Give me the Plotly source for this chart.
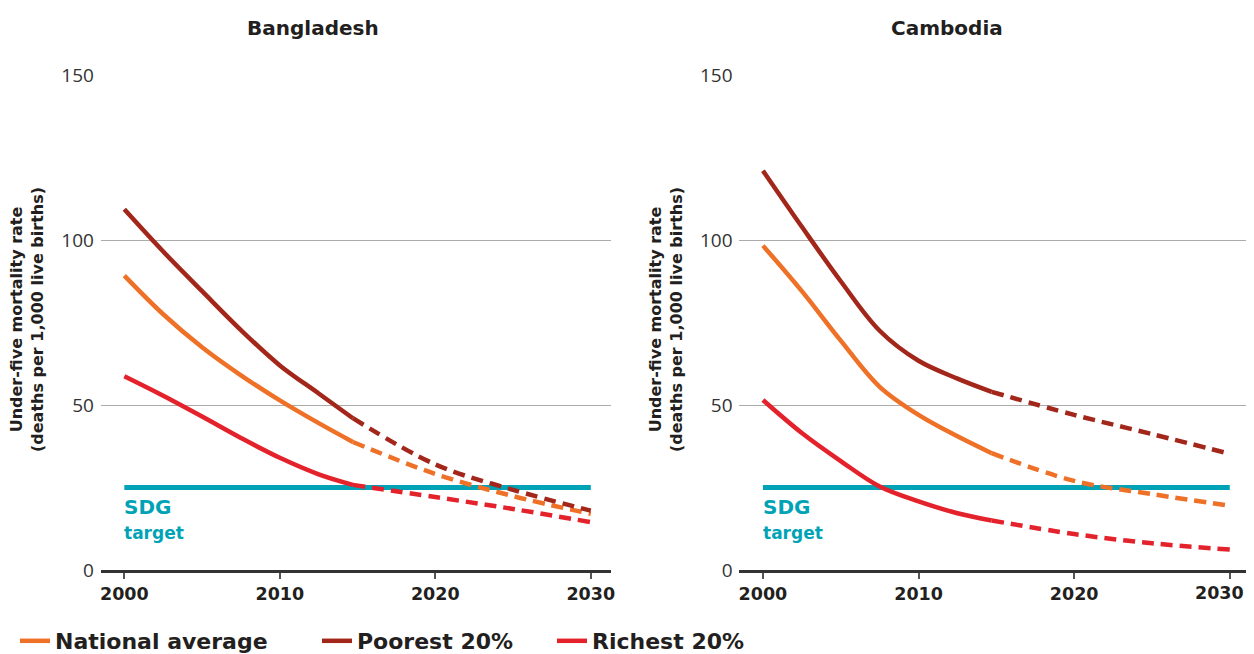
import plotly.graph_objects as go

# ---- data ----
years_obs = [2000, 2002.5, 2005, 2007.5, 2010, 2012.5, 2014.7]
years_proj = [2014.7, 2020, 2025, 2030]
sdg_years = [2000, 2030]
sdg_target = 25
x_ticks = [2000, 2010, 2020, 2030]

countries = ["Bangladesh", "Cambodia"]

bgd_national_obs = [89.2, 77.5, 67.5, 59.0, 51.4, 44.5, 38.8]
bgd_national_proj = [38.8, 29.1, 22.4, 17.0]
bgd_poorest_obs = [109.3, 96.5, 84.5, 72.7, 62.0, 53.5, 46.0]
bgd_poorest_proj = [46.0, 32.0, 24.3, 18.0]
bgd_richest_obs = [58.7, 52.8, 46.5, 40.0, 34.0, 29.0, 25.8]
bgd_richest_proj = [25.8, 22.1, 18.5, 14.5]

khm_national_obs = [98.3, 84.5, 69.5, 55.5, 47.0, 40.5, 35.4]
khm_national_proj = [35.4, 27.0, 23.0, 19.5]
khm_poorest_obs = [121.0, 104.0, 87.5, 72.5, 63.4, 58.0, 54.0]
khm_poorest_proj = [54.0, 47.0, 41.2, 35.2]
khm_richest_obs = [51.5, 41.5, 33.0, 25.3, 20.8, 17.2, 15.0]
khm_richest_proj = [15.0, 10.9, 8.1, 6.2]

series_names = ["National average", "Poorest 20%", "Richest 20%"]
colors = {"National average": "#EE7127", "Poorest 20%": "#A3261A", "Richest 20%": "#E4222B"}
SDG_COLOR = "#00A3B6"

data = {
    "Bangladesh": {
        "National average": (bgd_national_obs, bgd_national_proj),
        "Poorest 20%": (bgd_poorest_obs, bgd_poorest_proj),
        "Richest 20%": (bgd_richest_obs, bgd_richest_proj),
    },
    "Cambodia": {
        "National average": (khm_national_obs, khm_national_proj),
        "Poorest 20%": (khm_poorest_obs, khm_poorest_proj),
        "Richest 20%": (khm_richest_obs, khm_richest_proj),
    },
}

# page has an 8px body margin; figure placed so the window shows it as the reference
OFF = 8
W, H = 1254, 654 - OFF
BOLD = "DejaVu Sans"
TEXT = "#231F20"


def fx(sx):
    return (sx - OFF) / W


def fy(sy):
    return 1 - (sy - OFF) / H


legend_ids = ["legend", "legend2", "legend3"]

fig = go.Figure()

axes = [("x", "y"), ("x2", "y2")]
for i, c in enumerate(countries):
    xa, ya = axes[i]
    fig.add_trace(go.Scatter(x=sdg_years, y=[sdg_target] * 2, mode="lines",
                             line=dict(color=SDG_COLOR, width=5), showlegend=False,
                             xaxis=xa, yaxis=ya, hoverinfo="skip"))
    for k, name in enumerate(series_names):
        obs, proj = data[c][name]
        fig.add_trace(go.Scatter(x=years_proj, y=proj, mode="lines",
                                 line=dict(color=colors[name], width=4.5, dash="12px,7px", shape="spline"),
                                 showlegend=False, xaxis=xa, yaxis=ya))
        fig.add_trace(go.Scatter(x=years_obs, y=obs, mode="lines", name=name,
                                 line=dict(color=colors[name], width=4.5, shape="spline"),
                                 showlegend=(i == 0), legend=legend_ids[k],
                                 xaxis=xa, yaxis=ya))

xdoms = [[fx(100.7), fx(611)], [fx(739.3), fx(1250)]]
ydom = [fy(570), fy(75)]

tick_font = dict(family=BOLD, size=17.5, color=TEXT, weight="bold")
common_x = dict(range=[1998.48, 2031.3], tickvals=x_ticks,
                showgrid=False, showline=True, linecolor="#333333", linewidth=2.5,
                ticks="outside", ticklen=6, tickwidth=1.5, tickcolor="#555555",
                tickfont=tick_font, ticklabeloverflow="allow",
                zeroline=False, fixedrange=True, automargin=False)
common_y = dict(range=[0, 150], tickvals=[0, 50, 100, 150], showgrid=True,
                gridcolor="#ABABAB", gridwidth=1.3, showline=False, zeroline=False,
                ticks="outside", ticklen=2, tickcolor="rgba(0,0,0,0)",
                tickfont=dict(family="Open Sans", size=19, color="#333333"),
                fixedrange=True, automargin=False)

legend_font = dict(family=BOLD, size=22, color=TEXT, weight="bold")
legend_x = [fx(15), fx(317), fx(552)]
leg_common = dict(orientation="h", xanchor="left", y=fy(662), yanchor="bottom",
                  font=legend_font, itemwidth=30, bgcolor="rgba(0,0,0,0)")

# right panel: last tick label drawn as an annotation so it stays inside the window
x2_ticktext = [str(t) for t in x_ticks[:-1]] + [""]

fig.update_layout(
    width=W, height=H, margin=dict(l=0, r=0, t=0, b=0, pad=0, autoexpand=False),
    paper_bgcolor="white", plot_bgcolor="white",
    xaxis=dict(domain=xdoms[0], anchor="y", **common_x),
    yaxis=dict(domain=ydom, anchor="x", **common_y),
    xaxis2=dict(domain=xdoms[1], anchor="y2", ticktext=x2_ticktext, **common_x),
    yaxis2=dict(domain=ydom, anchor="x2", **common_y),
    showlegend=True,
    legend=dict(x=legend_x[0], **leg_common),
    legend2=dict(x=legend_x[1], **leg_common),
    legend3=dict(x=legend_x[2], **leg_common),
)

title_cx = [313, 947]
ytitle_cx = [27, 666]
annotations = []
for i, c in enumerate(countries):
    annotations.append(dict(text=c, x=fx(title_cx[i]), y=fy(28), xref="paper", yref="paper",
                            xanchor="center", yanchor="middle", showarrow=False,
                            font=dict(family=BOLD, size=20, color=TEXT, weight="bold")))
    annotations.append(dict(text="Under-five mortality rate<br>(deaths per 1,000 live births)",
                            x=fx(ytitle_cx[i]), y=fy(320), xref="paper", yref="paper",
                            xanchor="center", yanchor="middle", textangle=-90, showarrow=False,
                            font=dict(family=BOLD, size=16, color=TEXT, weight="bold")))
    xref = "x" if i == 0 else "x2"
    yref = "y" if i == 0 else "y2"
    annotations.append(dict(text="SDG", x=2000, y=19.2, xref=xref, yref=yref,
                            xanchor="left", yanchor="middle", showarrow=False, xshift=-2,
                            font=dict(family=BOLD, size=20, color=SDG_COLOR, weight="bold")))
    annotations.append(dict(text="target", x=2000, y=11.3, xref=xref, yref=yref,
                            xanchor="left", yanchor="middle", showarrow=False, xshift=-2,
                            font=dict(family=BOLD, size=17, color=SDG_COLOR, weight="bold")))
annotations.append(dict(text=str(x_ticks[-1]), x=x_ticks[-1], y=fy(593), xref="x2", yref="paper",
                        xanchor="right", yanchor="middle", xshift=16, showarrow=False,
                        font=tick_font))
fig.update_layout(annotations=annotations)

fig.write_html("out.html")
